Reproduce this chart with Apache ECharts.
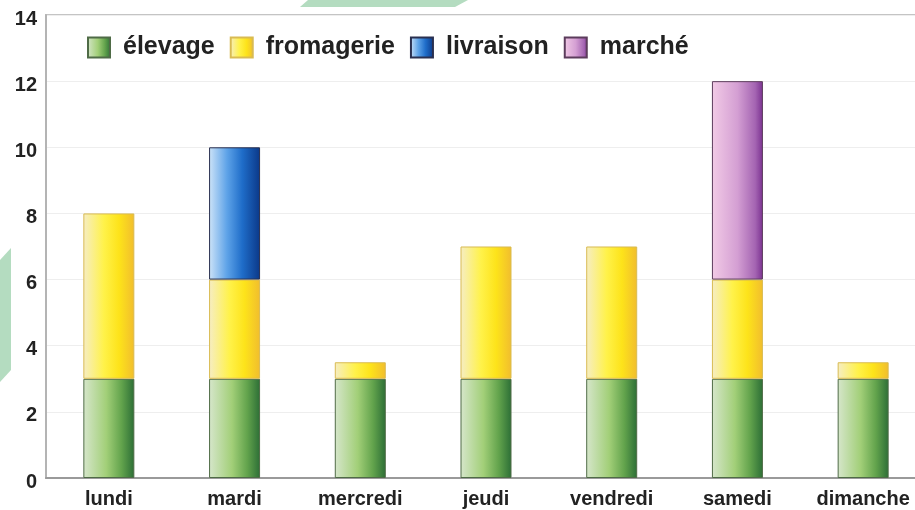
<!DOCTYPE html>
<html>
<head>
<meta charset="utf-8">
<script src="https://cdn.jsdelivr.net/npm/echarts@6/dist/echarts.min.js"></script>
<style>html,body{margin:0;padding:0;background:#fff;}#c{width:915px;height:510px;}</style>
</head>
<body>
<div id="c"></div>
<script>
var days = ['lundi', 'mardi', 'mercredi', 'jeudi', 'vendredi', 'samedi', 'dimanche'];
var seriesNames = ['élevage', 'fromagerie', 'livraison', 'marché'];
var elevage = [3, 3, 3, 3, 3, 3, 3];
var fromagerie = [5, 3, 0.5, 4, 4, 3, 0.5];
var livraison = ['-', 4, '-', '-', '-', '-', '-'];
var marche = ['-', '-', '-', '-', '-', 6, '-'];
var yTicks = [0, 2, 4, 6, 8, 10, 12, 14];

function grad(stops) {
  return new echarts.graphic.LinearGradient(0, 0, 1, 0, stops.map(function (s) { return { offset: s[0], color: s[1] }; }));
}
var styles = [
  { color: grad([[0, '#d6e6cb'], [0.45, '#a2cf78'], [0.75, '#62a34c'], [1, '#2c6e36']]), borderColor: '#4f6b46' },
  { color: grad([[0, '#f6edc4'], [0.4, '#fff24a'], [0.7, '#fde31a'], [1, '#f1bd2e']]), borderColor: '#d9bb52' },
  { color: grad([[0, '#cde3f8'], [0.35, '#5ea3e8'], [0.65, '#1f6dc9'], [1, '#0b3888']]), borderColor: '#2a3050' },
  { color: grad([[0, '#f2cbe6'], [0.5, '#d49fd3'], [0.85, '#a464b2'], [1, '#7a3190']]), borderColor: '#5c3c5c' }
];
var values = [elevage, fromagerie, livraison, marche];

var chart = echarts.init(document.getElementById('c'));
chart.setOption({
  animation: false,
  backgroundColor: '#ffffff',
  textStyle: { fontFamily: 'Liberation Sans, Arial, sans-serif' },
  graphic: [
    { type: 'polygon', z: -10, shape: { points: [[300, 7], [308, 0], [468, 0], [455, 7]] }, style: { fill: '#b4dcc0' } },
    { type: 'polygon', z: -10, shape: { points: [[0, 260], [11, 248], [11, 370], [0, 382]] }, style: { fill: '#b4dcc0' } }
  ],
  grid: {
    left: 46, top: 15, width: 880, bottom: 32,
    outerBoundsMode: 'none', containLabel: false,
    show: true, borderColor: '#c4c4c4', borderWidth: 2, backgroundColor: 'transparent'
  },
  legend: {
    left: 82, top: 30,
    icon: 'rect',
    itemWidth: 22, itemHeight: 20, itemGap: 15,
    textStyle: { fontSize: 25, fontWeight: 'bold', color: '#222', padding: [0, 0, 0, 8] },
    data: seriesNames
  },
  xAxis: {
    type: 'category',
    data: days,
    axisLine: { show: true, lineStyle: { color: '#9a9a9a', width: 2 } },
    axisTick: { show: false },
    axisLabel: { fontSize: 20, fontWeight: 'bold', color: '#222', margin: 11 }
  },
  yAxis: {
    type: 'value',
    min: 0, max: 14, interval: 2,
    axisLine: { show: true, lineStyle: { color: '#b4b4b4', width: 2 } },
    axisTick: { show: false },
    splitLine: { lineStyle: { color: '#eeeeee', width: 1 } },
    axisLabel: { fontSize: 20, fontWeight: 'bold', color: '#222', margin: 9, verticalAlign: 'top', lineHeight: 8,
      formatter: function (v) { return yTicks.indexOf(v) >= 0 ? String(v) : ''; } }
  },
  series: seriesNames.map(function (n, i) {
    return {
      name: n,
      type: 'bar',
      stack: 'total',
      barWidth: 51,
      data: values[i],
      itemStyle: { color: styles[i].color, borderColor: styles[i].borderColor, borderWidth: 1 }
    };
  })
});
</script>
</body>
</html>
